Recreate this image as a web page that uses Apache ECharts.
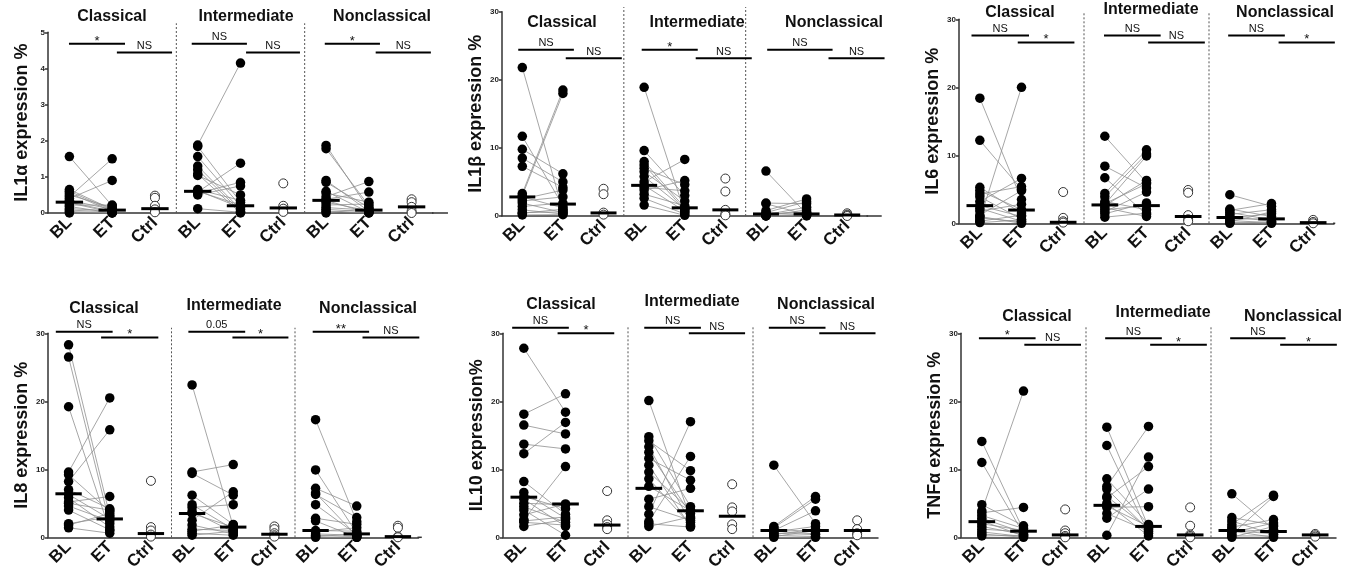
<!DOCTYPE html>
<html>
<head>
<meta charset="utf-8">
<script src="https://cdn.jsdelivr.net/npm/echarts@6/dist/echarts.min.js"></script>
<style>
html, body { margin: 0; padding: 0; background: #fff; }
#chart { width: 1357px; height: 575px; }
</style>
</head>
<body>
<div id="chart"></div>
<script>
// x categories and group names
const categories = ['BL', 'ET', 'Ctrl', 'BL', 'ET', 'Ctrl', 'BL', 'ET', 'Ctrl'];
const groups = ['Classical', 'Intermediate', 'Nonclassical'];

// IL1a  (each: [classical, intermediate, nonclassical]; BL[i] paired with ET[i])
const il1aBL = [
  [1.56, 0.65, 0.6, 0.55, 0.5, 0.45, 0.4, 0.35, 0.3, 0.28, 0.22, 0.18, 0.12, 0.08, 0.04, 0.0],
  [1.88, 1.84, 1.56, 1.3, 1.2, 1.08, 1.04, 0.62, 0.58, 0.55, 0.5, 0.12, 0.6, 0.65],
  [1.87, 1.78, 0.9, 0.85, 0.6, 0.55, 0.45, 0.38, 0.35, 0.3, 0.22, 0.15, 0.1, 0.05, 0.0]
];
const il1aET = [
  [0.2, 0.1, 0.08, 0.05, 0.15, 1.5, 0.9, 0.1, 0.05, 0.02, 0.22, 0.0, 0.06, 0.03, 0.0, 0.01],
  [4.15, 0.3, 0.2, 0.1, 0.05, 0.0, 0.5, 0.15, 1.38, 0.85, 0.75, 0.02, 0.22, 0.35],
  [0.1, 0.2, 0.05, 0.15, 0.02, 0.3, 0.87, 0.58, 0.0, 0.06, 0.25, 0.08, 0.03, 0.0, 0.12]
];
const il1aCtrl = [[0.48, 0.42, 0.2, 0.1, 0.02], [0.82, 0.2, 0.12, 0.03], [0.38, 0.3, 0.17, 0.05, 0.0]];
const il1aMed = [[0.3, 0.08, 0.12], [0.6, 0.2, 0.14], [0.35, 0.08, 0.17]];
const il1aSig = [[0.49, 1.80, 4.68], [1.61, 2.90, 4.44], [3.36, 4.65, 4.68], [4.63, 5.89, 4.44], [6.47, 7.76, 4.68], [7.66, 8.95, 4.44]];
const il1aSigText = ['*', 'NS', 'NS', 'NS', '*', 'NS'];

// IL1b
const il1bBL = [
  [21.8, 11.7, 9.8, 8.5, 7.3, 3.3, 3.0, 2.8, 2.5, 2.2, 1.9, 1.4, 0.9, 0.4, 0.15, 0.5],
  [18.9, 9.6, 8.0, 7.5, 7.0, 6.5, 5.8, 5.0, 4.5, 3.8, 3.2, 2.6, 1.6, 4.2],
  [6.6, 1.9, 1.8, 0.8, 0.5, 0.3, 0.2, 0.1, 0.05, 0.0, 0.0, 0.3]
];
const il1bET = [
  [0.8, 1.5, 6.2, 5.0, 4.2, 18.5, 18.0, 1.2, 3.8, 2.8, 0.5, 1.9, 0.3, 1.0, 0.2, 0.6],
  [0.5, 3.0, 1.2, 0.9, 4.6, 2.2, 1.0, 8.3, 0.7, 5.2, 1.5, 0.3, 0.1, 3.7],
  [0.3, 1.8, 0.2, 2.5, 2.1, 0.5, 1.3, 0.1, 0.9, 0.0, 0.3, 0.6]
];
const il1bCtrl = [[4.0, 3.2, 0.5, 0.2], [5.5, 3.6, 0.9, 0.3, 0.1], [0.4, 0.2, 0.1, 0.0]];
const il1bMed = [[2.8, 1.75, 0.45], [4.5, 1.2, 0.9], [0.3, 0.3, 0.15]];
const il1bSig = [[0.40, 1.77, 24.4], [1.57, 2.95, 23.15], [3.44, 4.82, 24.4], [4.77, 6.15, 23.15], [6.53, 8.14, 24.4], [8.04, 9.42, 23.15]];
const il1bSigText = ['NS', 'NS', '*', 'NS', 'NS', 'NS'];

// IL6
const il6BL = [
  [18.4, 12.2, 5.3, 4.8, 3.9, 3.2, 2.6, 2.2, 1.8, 1.2, 0.8, 0.5, 0.3, 1.0, 0.1, 4.3],
  [12.8, 8.4, 6.7, 4.4, 3.9, 3.2, 2.8, 2.6, 2.3, 2.0, 1.7, 1.4, 0.9, 2.9],
  [4.2, 2.1, 1.9, 1.6, 1.3, 1.0, 0.8, 0.6, 0.4, 0.2, 0.1, 0.0]
];
const il6ET = [
  [3.5, 5.0, 1.5, 2.0, 0.6, 6.6, 1.0, 0.3, 2.8, 4.8, 0.2, 20.0, 1.2, 0.0, 0.5, 5.4],
  [6.0, 5.2, 1.3, 10.8, 10.2, 2.0, 9.9, 6.3, 1.0, 2.6, 4.6, 3.0, 1.5, 5.8],
  [2.5, 1.0, 2.9, 0.5, 2.0, 0.3, 1.4, 0.7, 0.1, 1.7, 0.0, 0.2]
];
const il6Ctrl = [[4.6, 0.8, 0.3, 0.1], [4.9, 4.5, 1.2, 0.6, 0.3], [0.5, 0.2, 0.0]];
const il6Med = [[2.6, 1.95, 0.15], [2.7, 2.6, 1.0], [0.85, 0.65, 0.1]];
const il6Sig = [[0.30, 1.68, 27.6], [1.41, 2.77, 26.6], [3.48, 4.84, 27.6], [4.54, 5.90, 26.6], [6.46, 7.82, 27.6], [7.67, 9.02, 26.6]];
const il6SigText = ['NS', '*', 'NS', 'NS', 'NS', '*'];

// IL8
const il8BL = [
  [28.3, 26.5, 19.2, 9.6, 9.2, 8.2, 7.0, 6.3, 5.8, 5.2, 4.6, 4.0, 2.0, 1.4, 1.8, 5.0],
  [22.4, 9.6, 9.4, 6.2, 4.8, 4.4, 3.8, 3.5, 2.5, 1.8, 1.2, 0.9, 0.6, 0.3],
  [17.3, 9.9, 7.2, 6.5, 6.3, 4.8, 2.8, 2.4, 1.0, 0.8, 0.5, 0.3, 0.1, 0.0]
];
const il8ET = [
  [3.2, 2.0, 1.0, 20.5, 3.8, 15.8, 4.2, 2.7, 1.5, 6.0, 2.4, 1.1, 3.0, 0.6, 3.5, 4.0],
  [1.6, 10.7, 6.2, 1.9, 1.2, 4.8, 0.8, 1.5, 6.7, 0.5, 1.0, 1.8, 0.3, 0.9],
  [2.3, 0.6, 4.6, 0.2, 2.9, 0.4, 1.9, 0.0, 0.9, 1.4, 0.3, 0.1, 0.5, 0.0]
];
const il8Ctrl = [[8.3, 1.5, 1.0, 0.4, 0.1], [1.6, 1.2, 0.6, 0.3, 0.1], [1.7, 1.4, 0.1, 0.0]];
const il8Med = [[6.4, 2.7, 0.55], [3.5, 1.5, 0.45], [1.0, 0.5, 0.1]];
const il8Sig = [[0.19, 1.57, 30.24], [1.29, 2.68, 29.4], [3.41, 4.79, 30.24], [4.48, 5.84, 29.4], [6.43, 7.80, 30.24], [7.64, 9.02, 29.4]];
const il8SigText = ['NS', '*', '0.05', '*', '**', 'NS'];

// IL10
const il10BL = [
  [27.8, 18.1, 16.5, 13.7, 12.3, 8.2, 6.6, 6.0, 5.6, 5.0, 4.5, 4.0, 3.3, 2.6, 2.2, 1.6, 2.4],
  [20.1, 14.8, 14.2, 13.3, 12.5, 11.6, 10.6, 9.6, 8.6, 7.5, 5.6, 4.5, 3.4, 2.3, 1.6, 2.0],
  [10.6, 1.6, 1.4, 1.2, 1.0, 0.8, 0.6, 0.4, 0.3, 0.1, 0.0, 0.9]
];
const il10ET = [
  [18.4, 21.1, 15.2, 13.0, 16.9, 3.4, 2.8, 4.2, 1.6, 4.8, 2.2, 0.3, 4.9, 10.4, 1.8, 2.6, 3.0],
  [2.8, 4.5, 9.8, 2.2, 3.5, 8.4, 1.6, 4.0, 1.8, 3.9, 7.2, 2.5, 17.0, 11.9, 3.0, 1.5],
  [2.0, 6.0, 5.6, 0.8, 3.9, 1.6, 0.4, 1.2, 0.1, 1.0, 0.0, 0.5]
];
const il10Ctrl = [[6.8, 2.5, 1.9, 1.5, 1.2], [7.8, 4.4, 3.8, 1.9, 1.2], [2.5, 1.2, 0.6, 0.3]];
const il10Med = [[5.9, 4.9, 1.8], [7.2, 3.9, 3.1], [1.0, 1.0, 1.0]];
const il10Sig = [[0.22, 1.58, 30.8], [1.31, 2.67, 30.0], [3.39, 4.75, 30.8], [4.46, 5.81, 30.0], [6.38, 7.74, 30.8], [7.59, 8.94, 30.0]];
const il10SigText = ['NS', '*', 'NS', 'NS', 'NS', 'NS'];

// TNFa
const tnfBL = [
  [14.1, 11.0, 4.8, 3.6, 3.2, 2.8, 2.4, 2.0, 1.6, 1.2, 0.8, 0.5, 0.2, 3.9],
  [16.2, 13.5, 8.6, 7.5, 7.1, 5.8, 5.0, 4.6, 4.4, 3.5, 2.8, 0.3, 6.0],
  [6.4, 2.9, 2.4, 1.9, 1.5, 1.2, 0.9, 0.7, 0.4, 0.2, 0.0, 1.0]
];
const tnfET = [
  [1.0, 0.5, 1.7, 4.4, 1.3, 0.7, 0.2, 1.0, 0.4, 0.8, 0.1, 0.0, 0.3, 21.5],
  [1.5, 0.6, 1.9, 16.3, 1.1, 10.4, 0.2, 1.6, 4.5, 0.9, 7.1, 11.8, 1.3],
  [1.2, 1.8, 0.4, 6.2, 2.6, 0.8, 0.0, 2.1, 6.0, 0.2, 1.6, 0.5]
];
const tnfCtrl = [[4.1, 1.0, 0.6, 0.2, 0.0], [4.4, 1.7, 0.4, 0.2, 0.0], [0.5, 0.3, 0.1]];
const tnfMed = [[2.3, 0.9, 0.35], [4.7, 1.6, 0.35], [1.0, 0.85, 0.35]];
const tnfSig = [[0.43, 1.79, 29.26], [1.52, 2.88, 28.3], [3.46, 4.82, 29.26], [4.54, 5.90, 28.3], [6.46, 7.79, 29.26], [7.66, 9.02, 28.3]];
const tnfSigText = ['*', 'NS', 'NS', '*', 'NS', '*'];

const panels = [
  { name: 'IL1\u03b1 expression %', max: 5, step: 1, bl: il1aBL, et: il1aET, ctrl: il1aCtrl, med: il1aMed, sig: il1aSig, sigText: il1aSigText },
  { name: 'IL1\u03b2 expression %', max: 30, step: 10, bl: il1bBL, et: il1bET, ctrl: il1bCtrl, med: il1bMed, sig: il1bSig, sigText: il1bSigText },
  { name: 'IL6 expression %', max: 30, step: 10, bl: il6BL, et: il6ET, ctrl: il6Ctrl, med: il6Med, sig: il6Sig, sigText: il6SigText },
  { name: 'IL8 expression %', max: 30, step: 10, bl: il8BL, et: il8ET, ctrl: il8Ctrl, med: il8Med, sig: il8Sig, sigText: il8SigText },
  { name: 'IL10 expression%', max: 30, step: 10, bl: il10BL, et: il10ET, ctrl: il10Ctrl, med: il10Med, sig: il10Sig, sigText: il10SigText },
  { name: 'TNF\u03b1 expression %', max: 30, step: 10, bl: tnfBL, et: tnfET, ctrl: tnfCtrl, med: tnfMed, sig: tnfSig, sigText: tnfSigText }
];

// panel placement (pixels), axis extension and divider tops (axis units)
const layout = [
  { left: 48, top: 32.3, width: 385, height: 180.7, ext: 0.35, divTop: 5.25, titles: [[112, 17], [246, 17], [382, 17]] },
  { left: 502, top: 11.7, width: 365.5, height: 204.3, ext: 0.35, divTop: 30.7, titles: [[562, 23], [697, 23], [834, 23]] },
  { left: 959, top: 19.3, width: 375, height: 204, ext: 0.03, divTop: 30.9, titles: [[1020, 13], [1151, 10], [1285, 13]] },
  { left: 48, top: 333.3, width: 370.5, height: 204, ext: 0.08, divTop: 30.8, titles: [[104, 309], [234, 306], [368, 309]] },
  { left: 503, top: 333.3, width: 375, height: 204, ext: 0, divTop: 30.9, titles: [[561, 305], [692, 302], [826, 305]] },
  { left: 961, top: 333.3, width: 375, height: 204, ext: 0, divTop: 31.2, titles: [[1037, 317], [1163, 313], [1293, 317]] }
];

const FONT = '"Liberation Sans", Arial, sans-serif';
const AXIS = '#333';

const option = { animation: false, grid: [], xAxis: [], yAxis: [], series: [], graphic: [] };

panels.forEach((p, i) => {
  const L = layout[i];
  const xi = 2 * i + 1;
  option.grid.push({ left: L.left, top: L.top, width: L.width, height: L.height });
  option.xAxis.push({
    type: 'category', gridIndex: i, data: categories,
    axisLine: { lineStyle: { color: AXIS, width: 1.5 } },
    axisTick: { alignWithLabel: true, length: 3, lineStyle: { color: AXIS, width: 1.5 } },
    axisLabel: { interval: 0, rotate: 45, margin: 7, color: '#111', fontSize: 17, fontWeight: 'bold', fontFamily: FONT }
  });
  option.xAxis.push({ type: 'value', gridIndex: i, min: 0, max: 9, show: false });
  option.yAxis.push({
    type: 'value', gridIndex: i, min: 0, max: p.max, interval: p.step,
    name: p.name, nameLocation: 'middle', nameGap: 17,
    nameTextStyle: { fontSize: 18, fontWeight: 'bold', fontFamily: FONT, color: '#111' },
    axisLine: { show: true, lineStyle: { color: AXIS, width: 1.5 } },
    axisTick: { show: true, length: 3, lineStyle: { color: AXIS, width: 1.5 } },
    axisLabel: { fontSize: 8, fontWeight: 'bold', fontFamily: FONT, color: '#222', margin: 3 },
    splitLine: { show: false }
  });

  const pairs = [], dots = [], ctrl = [], meds = [];
  for (let g = 0; g < 3; g++) {
    const xb = 3 * g + 0.5, xe = 3 * g + 1.5, xc = 3 * g + 2.5;
    p.bl[g].forEach((v, k) => {
      pairs.push([xb, v, xe, p.et[g][k]]);
      dots.push([xb, v]);
      dots.push([xe, p.et[g][k]]);
    });
    p.ctrl[g].forEach(v => ctrl.push([xc, v]));
    meds.push([xb, p.med[g][0]], [xe, p.med[g][1]], [xc, p.med[g][2]]);
  }

  // dotted group dividers
  option.series.push({
    type: 'custom', xAxisIndex: xi, yAxisIndex: i, z: 1, silent: true,
    data: [[3, L.divTop], [6, L.divTop]],
    renderItem: (params, api) => {
      const a = api.coord([api.value(0), 0]);
      const b = api.coord([api.value(0), api.value(1)]);
      return { type: 'line', shape: { x1: a[0], y1: a[1], x2: b[0], y2: b[1] },
        style: { stroke: '#555', lineWidth: 1, lineDash: [2, 2] } };
    }
  });
  // x axis line running a bit past the last column
  if (L.ext > 0) {
    option.series.push({
      type: 'custom', xAxisIndex: xi, yAxisIndex: i, z: 1, silent: true,
      data: [[9, 9 + L.ext]],
      renderItem: (params, api) => {
        const a = api.coord([api.value(0), 0]);
        const b = api.coord([api.value(1), 0]);
        return { type: 'line', shape: { x1: a[0] - 1, y1: a[1], x2: b[0], y2: b[1] },
          style: { stroke: AXIS, lineWidth: 1.5 } };
      }
    });
  }
  // BL -> ET pairing lines
  option.series.push({
    type: 'custom', xAxisIndex: xi, yAxisIndex: i, z: 2, silent: true,
    data: pairs,
    renderItem: (params, api) => {
      const a = api.coord([api.value(0), api.value(1)]);
      const b = api.coord([api.value(2), api.value(3)]);
      return { type: 'line', shape: { x1: a[0], y1: a[1], x2: b[0], y2: b[1] },
        style: { stroke: '#8f8f8f', lineWidth: 0.8 } };
    }
  });
  option.series.push({
    type: 'scatter', xAxisIndex: xi, yAxisIndex: i, z: 3, silent: true,
    symbol: 'circle', symbolSize: 9.5, itemStyle: { color: '#000', opacity: 1 },
    data: dots
  });
  option.series.push({
    type: 'scatter', xAxisIndex: xi, yAxisIndex: i, z: 3, silent: true,
    symbol: 'circle', symbolSize: 9,
    itemStyle: { color: '#fff', borderColor: '#333', borderWidth: 1, opacity: 1 },
    data: ctrl
  });
  // median bars
  option.series.push({
    type: 'custom', xAxisIndex: xi, yAxisIndex: i, z: 4, silent: true,
    data: meds,
    renderItem: (params, api) => {
      const a = api.coord([api.value(0) - 0.32, api.value(1)]);
      const b = api.coord([api.value(0) + 0.32, api.value(1)]);
      return { type: 'line', shape: { x1: a[0], y1: a[1], x2: b[0], y2: b[1] },
        style: { stroke: '#000', lineWidth: 3 } };
    }
  });
  // significance bars
  option.series.push({
    type: 'custom', xAxisIndex: xi, yAxisIndex: i, z: 4, silent: true,
    data: p.sig,
    renderItem: (params, api) => {
      const a = api.coord([api.value(0), api.value(2)]);
      const b = api.coord([api.value(1), api.value(2)]);
      const txt = p.sigText[params.dataIndex];
      const star = txt.indexOf('*') === 0;
      return { type: 'group', children: [
        { type: 'line', shape: { x1: a[0], y1: a[1], x2: b[0], y2: b[1] },
          style: { stroke: '#000', lineWidth: 2 } },
        { type: 'text', x: (a[0] + b[0]) / 2, y: a[1] + (star ? 4 : -1),
          style: { text: txt, fill: '#111', fontSize: star ? 13 : 11, fontFamily: FONT,
            align: 'center', verticalAlign: 'bottom' } }
      ] };
    }
  });

  L.titles.forEach((t, k) => {
    option.graphic.push({ type: 'text', x: t[0], y: t[1], silent: true,
      style: { text: groups[k], fill: '#111', fontSize: 16, fontWeight: 'bold', fontFamily: FONT,
        align: 'center', verticalAlign: 'middle' } });
  });
});

const chart = echarts.init(document.getElementById('chart'));
chart.setOption(option);
</script>
</body>
</html>
